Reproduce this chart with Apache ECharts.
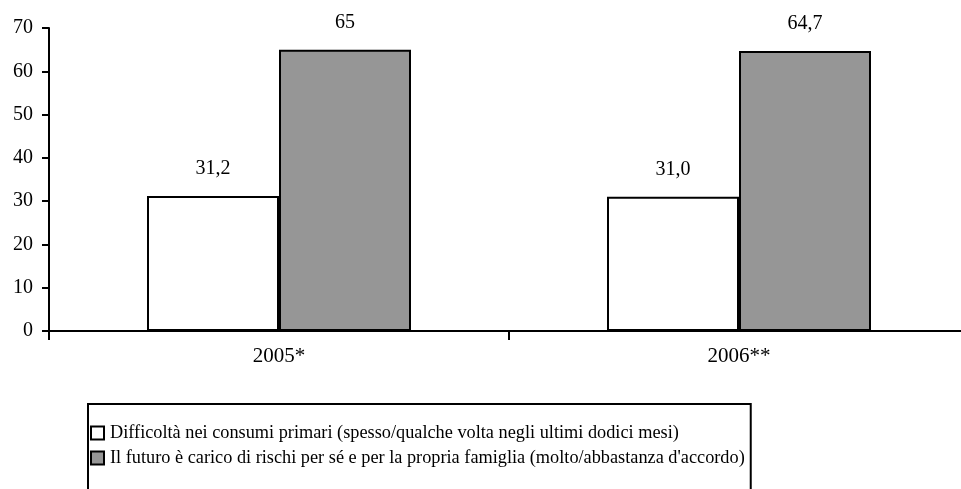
<!DOCTYPE html>
<html>
<head>
<meta charset="utf-8">
<script src="https://cdn.jsdelivr.net/npm/echarts@6/dist/echarts.min.js"></script>
<style>html,body{margin:0;padding:0;background:#fff;overflow:hidden}#c{width:969px;height:489px}</style>
</head>
<body>
<div id="c"></div>
<script>
const categories = ['2005*', '2006**'];
const seriesNames = [
  'Difficoltà nei consumi primari (spesso/qualche volta negli ultimi dodici mesi)',
  "Il futuro è carico di rischi per sé e per la propria famiglia (molto/abbastanza d'accordo)"
];
const difficoltaValues = [31.2, 31.0];
const difficoltaLabels = ['31,2', '31,0'];
const futuroValues = [65, 64.7];
const futuroLabels = ['65', '64,7'];
const yTicks = { min: 0, max: 70, interval: 10 };

const FONT = '"Liberation Serif", "DejaVu Serif", serif';
const chart = echarts.init(document.getElementById('c'), null, { renderer: 'canvas' });
chart.setOption({
  animation: false,
  backgroundColor: '#fff',
  textStyle: { fontFamily: FONT, color: '#000' },
  grid: { left: 49, top: 28, right: 0, bottom: 158 },
  legend: {
    orient: 'horizontal',
    left: 88,
    top: 404,
    width: 640,
    itemWidth: 13,
    itemHeight: 13,
    itemGap: 7,
    borderColor: '#000',
    borderWidth: 2,
    padding: [20, 6, 40, 2],
    icon: 'rect',
    textStyle: { fontFamily: FONT, fontSize: 18.3, color: '#000', padding: [0, 0, 0, 1] },
    data: seriesNames
  },
  xAxis: {
    type: 'category',
    data: categories,
    axisLine: { lineStyle: { color: '#000', width: 2 } },
    axisTick: { show: true, length: 9, lineStyle: { color: '#000', width: 2 } },
    axisLabel: { fontFamily: FONT, fontSize: 21, color: '#000', margin: 15 },
    splitLine: { show: false }
  },
  yAxis: {
    type: 'value',
    min: yTicks.min, max: yTicks.max, interval: yTicks.interval,
    axisLine: { show: true, lineStyle: { color: '#000', width: 2 } },
    axisTick: { show: true, length: 7, lineStyle: { color: '#000', width: 2 } },
    axisLabel: { fontFamily: FONT, fontSize: 20, color: '#000', margin: 16 },
    splitLine: { show: false }
  },
  series: [
    {
      name: seriesNames[0], type: 'bar', data: difficoltaValues,
      barWidth: 132, barGap: '0%',
      itemStyle: { color: '#ffffff', borderColor: '#000', borderWidth: 2 },
      label: { show: true, position: 'top', distance: 17, fontFamily: FONT, fontSize: 20, color: '#000',
        formatter: p => difficoltaLabels[p.dataIndex] }
    },
    {
      name: seriesNames[1], type: 'bar', data: futuroValues,
      barWidth: 132, barGap: '0%',
      itemStyle: { color: '#969696', borderColor: '#000', borderWidth: 2 },
      label: { show: true, position: 'top', distance: 17, fontFamily: FONT, fontSize: 20, color: '#000',
        formatter: p => futuroLabels[p.dataIndex] }
    }
  ]
});
</script>
</body>
</html>
